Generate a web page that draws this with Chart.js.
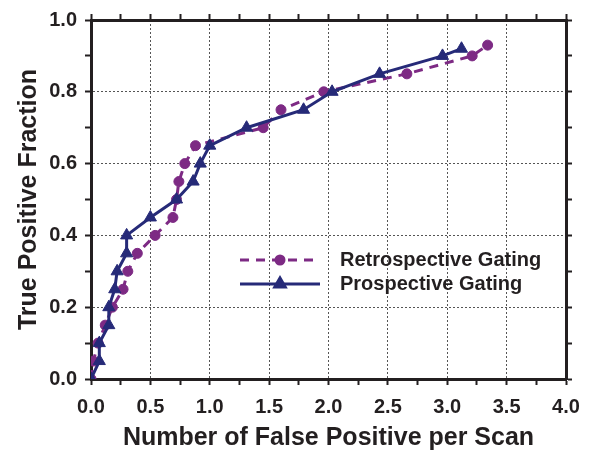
<!DOCTYPE html>
<html><head><meta charset="utf-8">
<script src="https://cdn.jsdelivr.net/npm/chart.js@4/dist/chart.umd.min.js"></script>
<style>html,body{margin:0;padding:0;background:#fff}#wrap{width:592px;height:454px}</style>
</head><body><div id="wrap"><canvas id="c" width="592" height="454"></canvas></div>
<script>
const retroLabel = "Retrospective Gating";
const retroX = [0, 0.02, 0.06, 0.12, 0.18, 0.27, 0.31, 0.39, 0.54, 0.69, 0.72, 0.74, 0.79, 0.88, 1.45, 1.60, 1.96, 2.66, 3.21, 3.34];
const retroY = [0, 0.05, 0.10, 0.15, 0.20, 0.25, 0.30, 0.35, 0.40, 0.45, 0.50, 0.55, 0.60, 0.65, 0.70, 0.75, 0.80, 0.85, 0.90, 0.93];
const prospLabel = "Prospective Gating";
const prospX = [0, 0.07, 0.07, 0.15, 0.15, 0.20, 0.22, 0.30, 0.30, 0.50, 0.72, 0.86, 0.92, 1.00, 1.31, 1.79, 2.03, 2.43, 2.96, 3.12];
const prospY = [0, 0.05, 0.10, 0.15, 0.20, 0.25, 0.30, 0.35, 0.40, 0.45, 0.50, 0.55, 0.60, 0.65, 0.70, 0.75, 0.80, 0.85, 0.90, 0.92];
const xTitle = "Number of False Positive per Scan";
const yTitle = "True Positive Fraction";

const toPts = (xs, ys) => xs.map((x, i) => ({x: x, y: ys[i]}));
const INK = '#231f20';
const PURPLE = '#7d2a84';
const NAVY = '#262a78';
const FONT = "'Liberation Sans', Arial, Helvetica, sans-serif";

const isMajor = (v, step) => Math.abs(v / step - Math.round(v / step)) < 1e-6;

function axisGrid(step, onArea) {
  return {
    drawOnChartArea: onArea,
    color: c => (c.tick && isMajor(c.tick.value, step)) ? '#555' : 'rgba(0,0,0,0)',
    lineWidth: 1,
    tickColor: INK,
    tickWidth: 2,
    tickLength: 6,
    tickBorderDash: []
  };
}

const legendPlugin = {
  id: 'insideLegend',
  afterDraw(chart) {
    const ctx = chart.ctx;
    const rows = [0, 1].map(i => chart.data.datasets[i]);
    const ys = [260, 284];
    rows.forEach((ds, k) => {
      const y = ys[k];
      ctx.save();
      ctx.strokeStyle = ds.borderColor;
      ctx.lineWidth = ds.borderWidth;
      ctx.setLineDash(ds.borderDash || []);
      ctx.beginPath();
      ctx.moveTo(240, y);
      ctx.lineTo(320, y);
      ctx.stroke();
      ctx.setLineDash([]);
      ctx.fillStyle = ds.pointBackgroundColor;
      ctx.strokeStyle = ds.pointBorderColor;
      Chart.helpers.drawPoint(ctx, {pointStyle: ds.pointStyle, radius: ds.pointRadius - 1, rotation: 0, borderWidth: 1}, 280, y);
      ctx.fillStyle = INK;
      ctx.font = "bold 20px " + FONT;
      ctx.textBaseline = 'middle';
      ctx.textAlign = 'left';
      ctx.fillText(ds.label, 340, y);
      ctx.restore();
    });
  }
};

new Chart(document.getElementById('c'), {
  type: 'scatter',
  data: {
    datasets: [
      {
        label: retroLabel,
        data: toPts(retroX, retroY),
        showLine: true,
        borderColor: PURPLE,
        backgroundColor: PURPLE,
        borderWidth: 3,
        borderDash: [9, 7],
        pointStyle: 'circle',
        pointRadius: 5,
        pointBackgroundColor: PURPLE,
        pointBorderColor: PURPLE,
        pointBorderWidth: 1,
        order: 1
      },
      {
        label: prospLabel,
        data: toPts(prospX, prospY),
        showLine: true,
        borderColor: NAVY,
        backgroundColor: NAVY,
        borderWidth: 3,
        pointStyle: 'triangle',
        pointRadius: 7,
        pointBackgroundColor: NAVY,
        pointBorderColor: NAVY,
        pointBorderWidth: 1,
        order: 0
      }
    ]
  },
  options: {
    responsive: false,
    animation: false,
    devicePixelRatio: 1,
    layout: {padding: 0},
    plugins: {legend: {display: false}, tooltip: {enabled: false}},
    scales: {
      x: {
        type: 'linear', position: 'bottom', min: 0, max: 4,
        afterFit: s => { s.height = 75; },
        ticks: {
          stepSize: 0.25, autoSkip: false, maxRotation: 0, padding: 10,
          color: INK, font: {family: FONT, size: 20, weight: 'bold'},
          callback: v => isMajor(v, 0.5) ? v.toFixed(1) : ''
        },
        grid: axisGrid(0.5, true),
        border: {display: true, color: INK, width: 3, dash: [2, 2]},
        title: {display: true, text: xTitle, color: INK, padding: {top: 0, bottom: 1},
                font: {family: FONT, size: 25, weight: 'bold', lineHeight: 1.2}}
      },
      y: {
        type: 'linear', position: 'left', min: 0, max: 1,
        afterFit: s => { s.width = 91; },
        ticks: {
          stepSize: 0.1, autoSkip: false, padding: 8,
          color: INK, font: {family: FONT, size: 20, weight: 'bold'},
          callback: v => isMajor(v, 0.2) ? v.toFixed(1) : ''
        },
        grid: axisGrid(0.2, true),
        border: {display: true, color: INK, width: 3, dash: [2, 2]},
        title: {display: true, text: yTitle, color: INK, padding: {top: 14, bottom: 0},
                font: {family: FONT, size: 25, weight: 'bold', lineHeight: 1.2}}
      },
      x2: {
        type: 'linear', position: 'top', min: 0, max: 4,
        afterFit: s => { s.height = 19; },
        ticks: {stepSize: 0.25, autoSkip: false, display: false},
        grid: {drawOnChartArea: false, tickColor: INK, tickWidth: 2, tickLength: 6, tickBorderDash: []},
        border: {display: true, color: INK, width: 3}
      },
      y2: {
        type: 'linear', position: 'right', min: 0, max: 1,
        afterFit: s => { s.width = 26; },
        ticks: {stepSize: 0.1, autoSkip: false, display: false},
        grid: {drawOnChartArea: false, tickColor: INK, tickWidth: 2, tickLength: 6, tickBorderDash: []},
        border: {display: true, color: INK, width: 3}
      }
    }
  },
  plugins: [legendPlugin]
});
</script>
</body></html>
